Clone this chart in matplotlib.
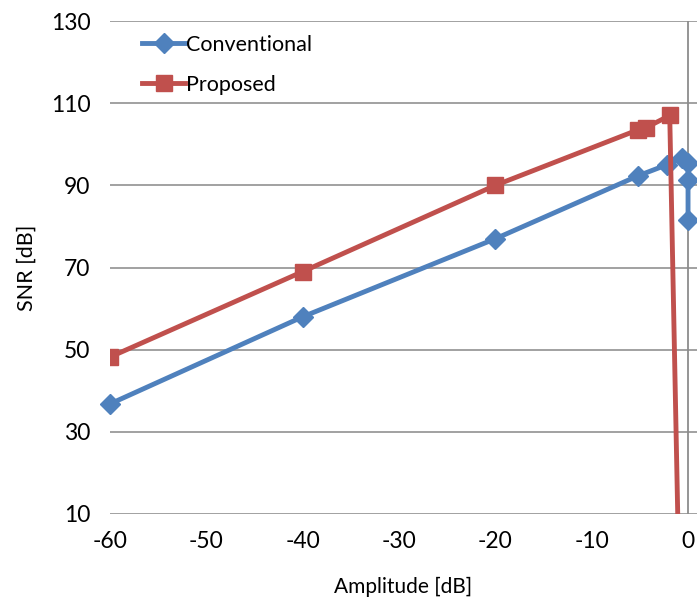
import matplotlib
matplotlib.use("Agg")
import matplotlib.pyplot as plt

# Measured SNR versus input amplitude
conv_amp = [-60, -40, -20, -5.2, -2.2, -0.6, 0.0, 0.0, 0.0]
conv_snr = [36.8, 58.0, 77.0, 92.3, 95.0, 96.7, 95.5, 91.3, 81.6]

prop_amp = [-60, -40, -20, -5.2, -4.4, -1.9, -0.9]
prop_snr = [48.2, 69.0, 90.0, 103.5, 104.0, 107.0, -10.0]

x_ticks = [-60, -50, -40, -30, -20, -10, 0]
y_ticks = [10, 30, 50, 70, 90, 110, 130]

plt.rcParams['font.family'] = ['Lato', 'DejaVu Sans']
plt.rcParams['axes.unicode_minus'] = False

fig = plt.figure(figsize=(6.97, 6.05), dpi=100)
ax = fig.add_axes([110 / 697, (605 - 514) / 605, 587 / 697, (514 - 21) / 605])

blue = '#4F81BD'
red = '#C0504D'

ax.plot(conv_amp, conv_snr, color=blue, lw=3.5, marker='D', ms=10,
        label='Conventional', zorder=3, clip_on=False)
ax.plot(prop_amp, prop_snr, color=red, lw=3.5, marker='s', ms=12,
        label='Proposed', zorder=4)

ax.set_xlim(-60, 0.93)
ax.set_ylim(10, 130)
ax.set_xticks(x_ticks)
ax.set_yticks(y_ticks)
ax.tick_params(axis='both', length=0, labelsize=16.5, pad=14)
ax.tick_params(axis='x', pad=12)

for s in ax.spines.values():
    s.set_visible(False)
ax.grid(axis='y', color='#9a9a9a', lw=1.3)
ax.grid(axis='x', visible=False)
ax.set_axisbelow(True)
ax.axvline(0, color='#8c8c8c', lw=1.3, zorder=1)

ax.set_xlabel('Amplitude [dB]', fontsize=15, labelpad=18)
ax.set_ylabel('SNR [dB]', fontsize=15.5, labelpad=10)

ax.legend(loc='upper left', bbox_to_anchor=(0.04, 0.99), frameon=False,
          fontsize=15.5, labelspacing=0.95, handlelength=2.0, handletextpad=0.05,
          borderaxespad=0)

fig.savefig('out.png', dpi=100)
